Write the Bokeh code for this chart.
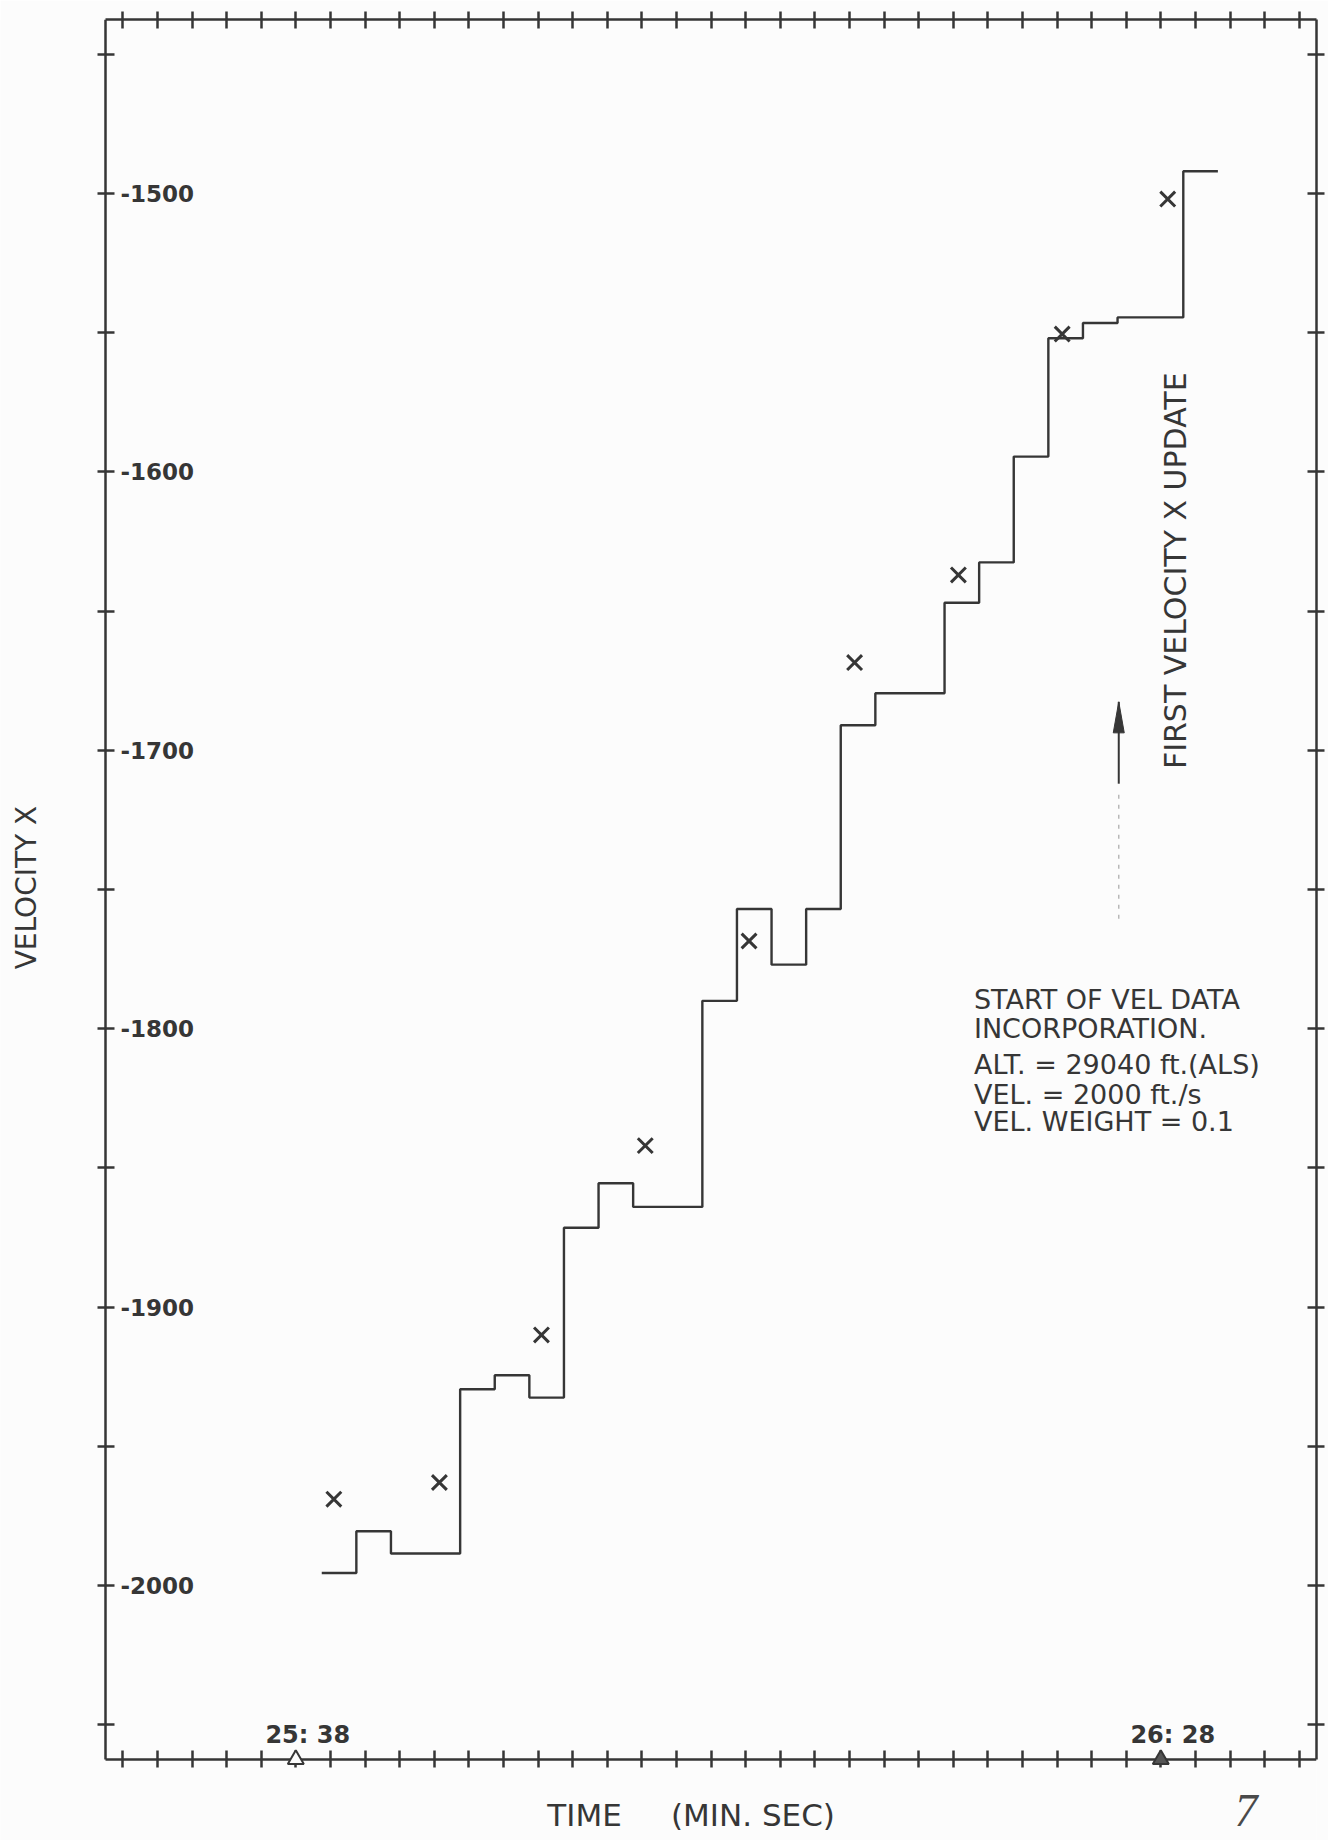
import math

from bokeh.plotting import figure
from bokeh.models import Range1d, FixedTicker, LinearAxis
from bokeh.core.properties import value
from bokeh.embed import file_html
from bokeh.resources import INLINE

# Time runs in seconds past minute 25 (25:38 -> 38, 26:28 -> 88)
step_times = [39.5, 41.5, 43.5, 47.5, 49.5, 51.5, 53.5, 55.5, 57.5, 61.5, 63.5,
              65.5, 67.5, 69.5, 71.5, 75.5, 77.5, 79.5, 81.5, 83.5, 85.5, 89.3, 91.3]
step_velocity = [-1995.5, -1980.5, -1988.5, -1929.5, -1924.5, -1932.5, -1871.5,
                 -1855.5, -1864.0, -1790.0, -1757.0, -1777.0, -1757.0, -1691.0,
                 -1679.5, -1647.0, -1632.5, -1594.5, -1552.0, -1546.5, -1544.5, -1492.0]
fix_times = [40.2, 46.3, 52.2, 58.2, 64.2, 70.3, 76.3, 82.3, 88.4]
fix_velocity = [-1969.0, -1963.0, -1910.0, -1842.0, -1768.5, -1668.5, -1637.0, -1550.5, -1502.0]

velocity_ticks = list(range(-2050, -1449, 50))
velocity_labels = [-1500, -1600, -1700, -1800, -1900, -2000]
time_ticks = list(range(28, 97, 2))
time_marks = [38, 88]
time_mark_labels = ["25: 38", "26: 28"]

x_title = "TIME\u00a0\u00a0\u00a0\u00a0\u00a0(MIN. SEC)"
x_title_pos = (60.85, -2082.5)
y_title = "VELOCITY X"
y_title_pos = (22.45, -1749.3)

note_lines = ["START OF VEL DATA", "INCORPORATION.", "ALT. = 29040 ft.(ALS)",
              "VEL. =  2000 ft./s", "VEL. WEIGHT = 0.1"]
note_velocity = [-1789.6, -1800.0, -1813.0, -1823.5, -1833.5]
note_time = 77.2

update_time = 85.57
update_tip, update_tail = -1682.6, -1712.0
update_faint = (-1716.0, -1762.0)
update_text = "FIRST VELOCITY X UPDATE"
update_text_pos = (88.86, -1635.5)

page_number = "7"
page_number_pos = (92.93, -2080.8)

INK = "#363636"
PAPER = "#fcfcfc"
SANS = "DejaVu Sans"

# plotted box: x_box..x1 by y_box..y1; the frame also runs through the page
# margins left of and under the box so marks and text can sit there
x_box, x1 = 27.0, 97.0
y_box, y1 = -2062.5, -1437.5
X_PX = 1211 / (x1 - x_box)
Y_PX = 1740 / (y1 - y_box)
x0 = x_box - 105 / X_PX
y0 = y_box - 81 / Y_PX

p = figure(width=1328, height=1840,
           x_range=Range1d(x0, x1), y_range=Range1d(y0, y1),
           x_axis_location=None, y_axis_location=None,
           output_backend="svg", toolbar_location=None,
           min_border_left=0, min_border_right=12,
           min_border_top=19, min_border_bottom=0,
           background_fill_color=PAPER, border_fill_color=PAPER,
           outline_line_color=None)
p.grid.visible = False


def frame_axis(ticks, **kw):
    ax = LinearAxis(ticker=FixedTicker(ticks=ticks), **kw)
    ax.major_label_overrides = {t: "" for t in ticks}
    ax.major_label_standoff = 0
    ax.axis_line_color = INK
    ax.axis_line_width = 2.5
    ax.major_tick_line_color = INK
    ax.major_tick_line_width = 2.5
    ax.major_tick_in = 9
    ax.major_tick_out = 8
    ax.minor_tick_line_color = None
    return ax


p.add_layout(frame_axis(velocity_ticks, bounds=(y_box, y1), fixed_location=x_box), "left")
p.add_layout(frame_axis(velocity_ticks, bounds=(y_box, y1)), "right")
p.add_layout(frame_axis(time_ticks, bounds=(x_box, x1), fixed_location=y_box), "below")
p.add_layout(frame_axis(time_ticks, bounds=(x_box, x1)), "above")

# axis titles
p.text(x=[y_title_pos[0]], y=[y_title_pos[1]], text=[y_title], angle=math.pi / 2,
       text_font=value(SANS), text_font_size="28px", text_color=INK,
       text_align="center", text_baseline="middle")
p.text(x=[x_title_pos[0]], y=[x_title_pos[1]], text=[x_title],
       text_font=value(SANS), text_font_size="31px", text_color=INK,
       text_align="center", text_baseline="middle")

# velocity tick labels sit inside the box
p.text(x=[x_box] * len(velocity_labels), y=velocity_labels,
       text=[str(v) for v in velocity_labels], x_offset=15,
       text_font=value(SANS), text_font_style="bold", text_font_size="23px",
       text_color=INK, text_align="left", text_baseline="middle")

# time marks on the lower axis
p.text(x=time_marks, y=[y_box] * len(time_marks), text=time_mark_labels,
       x_offset=12, y_offset=-25,
       text_font=value(SANS), text_font_style="bold", text_font_size="24px",
       text_color=INK, text_align="center", text_baseline="middle")
p.scatter(x=time_marks[:1], y=[y_box], marker="triangle", size=16,
          fill_color=PAPER, line_color=INK, line_width=2, level="overlay")
p.scatter(x=time_marks[1:], y=[y_box], marker="triangle", size=16,
          fill_color="#555555", line_color=INK, line_width=2, level="overlay")

# filter velocity estimate
p.step(x=step_times, y=step_velocity + [step_velocity[-1]], mode="after",
       line_color=INK, line_width=2.4)

# velocity measurements
p.scatter(x=fix_times, y=fix_velocity, marker="x", size=21,
          line_color=INK, line_width=3)

# first-update arrow
p.segment(x0=[update_time], y0=[update_tail], x1=[update_time], y1=[update_tip],
          line_color=INK, line_width=2)
head_len = 31 / Y_PX
head_half = 5.5 / X_PX
p.patch(x=[update_time - head_half, update_time, update_time + head_half],
        y=[update_tip - head_len, update_tip, update_tip - head_len],
        fill_color=INK, line_color=INK, line_width=1)
p.segment(x0=[update_time], y0=[update_faint[0]], x1=[update_time], y1=[update_faint[1]],
          line_color="#b8b8b8", line_width=1.5, line_dash="4 6")
p.text(x=[update_text_pos[0]], y=[update_text_pos[1]], text=[update_text],
       angle=math.pi / 2, text_font=value(SANS), text_font_size="30px",
       text_color=INK, text_align="center", text_baseline="middle")

# note on velocity data incorporation
p.text(x=[note_time] * len(note_lines), y=note_velocity, text=note_lines,
       text_font=value(SANS), text_font_size="27px",
       text_color=INK, text_align="left", text_baseline="middle")

# page number
p.text(x=[page_number_pos[0]], y=[page_number_pos[1]], text=[page_number],
       text_font=value("Liberation Serif"), text_font_style="italic",
       text_font_size="46px", text_color="#4a4a4a",
       text_align="center", text_baseline="middle")

open("out.html", "w").write(file_html(p, INLINE))
